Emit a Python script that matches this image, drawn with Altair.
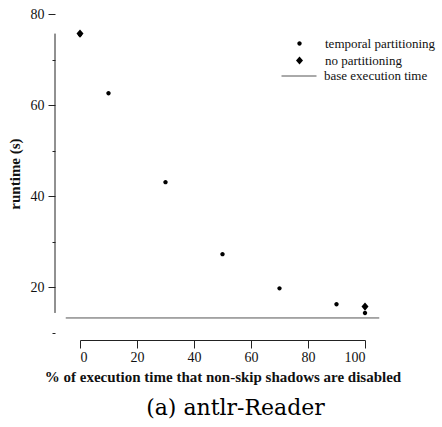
import altair as alt
import pandas as pd

# Runtime measurements for antlr-Reader
pct_disabled = [0, 10, 30, 50, 70, 90, 100]
runtime_temporal = [75.5, 62.6, 43.1, 27.3, 19.8, 16.3, 14.4]

pct_none = [0, 100]
runtime_none = [75.7, 15.8]

base_runtime = 13.3
base_extent = [-5, 105]

series_names = ["temporal partitioning", "no partitioning"]
base_name = ["base execution time"]
y_tick_values = [10, 20, 30, 40, 50, 60, 70, 80]
x_tick_values = [0, 10, 20, 30, 40, 50, 60, 70, 80, 90, 100]

serif = "Liberation Serif"
ink = "#111111"

# Marker outlines in Vega's unit symbol space: a small dot and a diamond
DOT = "M-0.44,0A0.44,0.44 0 1,0 0.44,0A0.44,0.44 0 1,0 -0.44,0Z"
DIAMOND = "M0,-0.82L0.7,0L0,0.82L-0.7,0Z"

points = pd.DataFrame(
    {
        "pct": pct_disabled + pct_none,
        "runtime": runtime_temporal + runtime_none,
        "series": [series_names[0]] * len(pct_disabled) + [series_names[1]] * len(pct_none),
    }
)
base = pd.DataFrame(
    {"x": [base_extent[0]], "x2": [base_extent[1]], "runtime": [base_runtime], "kind": base_name}
)

x_scale = alt.Scale(domain=[0, 100], nice=False, zero=False)
y_scale = alt.Scale(domain=[10, 80], nice=False, zero=False)

legend_common = dict(
    title=None,
    orient="none",
    labelFont=serif,
    labelFontSize=13,
    labelColor=ink,
)

x_axis = alt.Axis(
    title="% of execution time that non-skip shadows are disabled",
    values=x_tick_values,
    labelExpr="datum.value % 20 === 0 ? datum.label : ''",
    tickSize={"condition": {"test": "datum.value % 20 === 0", "value": 8}, "value": 4},
    offset=7,
    grid=False,
    labelPadding=2,
    titlePadding=5,
)

y_axis = alt.Axis(
    title="runtime (s)",
    values=y_tick_values,
    labelExpr="datum.value % 20 === 0 ? datum.label : ''",
    tickSize={"condition": {"test": "datum.value % 20 === 0", "value": 7}, "value": 3},
    offset=25,
    domain=False,
    grid=False,
    labelPadding=4,
    titlePadding=8,
)

dots = (
    alt.Chart(points)
    .mark_point(filled=True, color="black", opacity=1, size=100)
    .encode(
        x=alt.X("pct:Q", scale=x_scale, axis=x_axis),
        y=alt.Y("runtime:Q", scale=y_scale, axis=y_axis),
        shape=alt.Shape(
            "series:N",
            scale=alt.Scale(domain=series_names, range=[DOT, DIAMOND]),
            legend=alt.Legend(
                legendX=213,
                legendY=23,
                symbolSize=100,
                symbolFillColor="black",
                labelOffset=19,
                rowPadding=2,
                **legend_common,
            ),
        ),
    )
)

# Base execution time, drawn slightly past both ends of the x range
base_rule = (
    alt.Chart(base)
    .mark_rule(strokeWidth=1)
    .encode(
        x="x:Q",
        x2="x2:Q",
        y="runtime:Q",
        color=alt.Color(
            "kind:N",
            scale=alt.Scale(domain=base_name, range=["#555555"]),
            legend=alt.Legend(
                legendX=201,
                legendY=44,
                symbolType="stroke",
                symbolSize=1225,
                symbolStrokeWidth=1,
                labelOffset=7,
                **legend_common,
            ),
        ),
    )
)

# Range-frame y axis line spanning the observed runtimes
frame = (
    alt.Chart(points)
    .mark_rule(color="#222222", strokeWidth=1)
    .encode(
        x=alt.value(-25),
        y="min(runtime):Q",
        y2="max(runtime):Q",
    )
)

chart = (
    alt.layer(base_rule, frame, dots)
    .resolve_legend(color="independent", shape="independent")
    .properties(
        width=285,
        height=319,
        autosize=alt.AutoSizeParams(type="none"),
        padding={"left": 80, "top": 14, "right": 77, "bottom": 94},
        title=alt.TitleParams(
            "(a) antlr-Reader",
            orient="bottom",
            anchor="middle",
            font="DejaVu Serif",
            fontSize=22,
            fontWeight="normal",
            color="black",
            offset=14,
            dx=13,
        ),
    )
    .configure(background="white")
    .configure_view(stroke=None)
    .configure_axis(
        labelFont=serif,
        labelFontSize=14,
        labelColor=ink,
        titleFont=serif,
        titleFontSize=15,
        titleFontWeight="bold",
        titleColor=ink,
        domainColor="#222222",
        tickColor="#222222",
    )
)

chart.save("out.html", embed_options={"renderer": "svg", "actions": False})
